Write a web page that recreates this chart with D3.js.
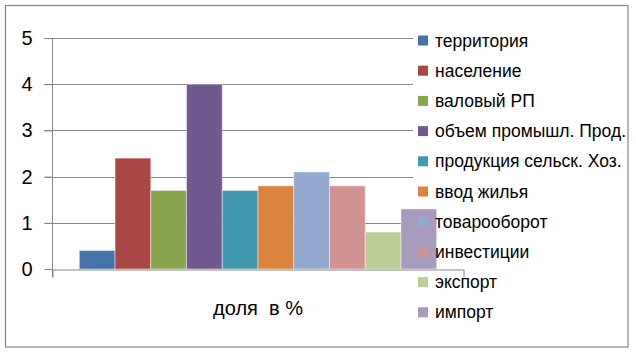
<!DOCTYPE html>
<html>
<head>
<meta charset="utf-8">
<script src="https://cdn.jsdelivr.net/npm/d3@7"></script>
<style>
  html, body { margin: 0; padding: 0; background: #fff; }
  svg { display: block; }
  text { font-family: "Liberation Sans", Arial, sans-serif; fill: #000; }
</style>
</head>
<body>
<svg id="chart" width="636" height="353"></svg>
<script>
// ---- data ----
const category = "доля  в %";
const seriesNames = ["территория", "население", "валовый РП", "объем промышл. Прод.",
  "продукция сельск. Хоз.", "ввод жилья", "товарооборот", "инвестиции", "экспорт", "импорт"];
const seriesValues = [0.4, 2.4, 1.7, 4.0, 1.7, 1.8, 2.1, 1.8, 0.8, 1.3];
const seriesColors = ["#4572A7", "#AA4643", "#89A54E", "#71588F", "#4198AF",
  "#DB843D", "#93A9CF", "#D19392", "#B9CD96", "#A99BBD"];
const yTicks = [0, 1, 2, 3, 4, 5];

// ---- layout ----
const svg = d3.select("#chart");
const plot = { left: 52.5, right: 463.5, top: 38, bottom: 269 };
const gridRight = 413;

// outer border
svg.append("rect").attr("x", 5.5).attr("y", 5.5).attr("width", 622.5).attr("height", 341.5)
  .attr("fill", "#fff").attr("stroke", "#868686").attr("stroke-width", 1.2);

const y = d3.scaleLinear().domain([0, 5]).range([plot.bottom, plot.top]);
const x0 = d3.scaleBand().domain([category]).range([plot.left, plot.right])
  .paddingInner(0).paddingOuter(0.075);
const x1 = d3.scaleBand().domain(seriesNames).range([0, x0.bandwidth()]).padding(0);

// gridlines
svg.append("g").selectAll("line").data(yTicks.filter(d => d > 0)).join("line")
  .attr("x1", plot.left - 8).attr("x2", gridRight)
  .attr("y1", d => Math.round(y(d)) + 0.5).attr("y2", d => Math.round(y(d)) + 0.5)
  .attr("stroke", "#868686").attr("stroke-width", 1);

// y axis
const yAxis = d3.axisLeft(y).tickValues(yTicks).tickSize(8).tickPadding(12).tickFormat(d3.format("d"));
const gy = svg.append("g").attr("transform", `translate(${plot.left},0)`).call(yAxis);
gy.select(".domain").remove();
gy.selectAll(".tick line").attr("stroke", "#868686");
gy.selectAll(".tick text").attr("font-size", 20).attr("font-family", "Liberation Sans, Arial, sans-serif")
  .attr("fill", "#000");
svg.append("line").attr("x1", plot.left).attr("x2", plot.left)
  .attr("y1", plot.top).attr("y2", plot.bottom + 8).attr("stroke", "#868686");

// bars
svg.append("g").selectAll("rect").data(seriesValues).join("rect")
  .attr("x", (d, i) => x0(category) + x1(seriesNames[i]))
  .attr("width", x1.bandwidth())
  .attr("y", d => y(d))
  .attr("height", d => y(0) - y(d))
  .attr("fill", (d, i) => seriesColors[i])
  .attr("stroke", "rgba(255,255,255,0.45)").attr("stroke-width", 1);

// x axis line with end ticks
const xAxis = d3.axisBottom(x0).tickValues([]).tickSizeOuter(8);
const gx = svg.append("g").attr("transform", `translate(0,${Math.round(plot.bottom) + 0.5})`).call(xAxis);
gx.select(".domain").attr("stroke", "#868686");

// category label
svg.append("text").attr("x", x0(category) + x0.bandwidth() / 2).attr("y", 315)
  .attr("text-anchor", "middle").attr("font-size", 20).style("white-space", "pre")
  .text(category);

// legend
const legend = svg.append("g").selectAll("g").data(seriesNames).join("g")
  .attr("transform", (d, i) => `translate(418,${40.5 + i * 30.2})`);
legend.append("rect").attr("x", 0).attr("y", -5).attr("width", 10).attr("height", 10)
  .attr("fill", (d, i) => seriesColors[i]);
legend.append("text").attr("x", 17).attr("y", 0).attr("dy", "0.35em")
  .attr("font-size", 17.5).text(d => d);
</script>
</body>
</html>
